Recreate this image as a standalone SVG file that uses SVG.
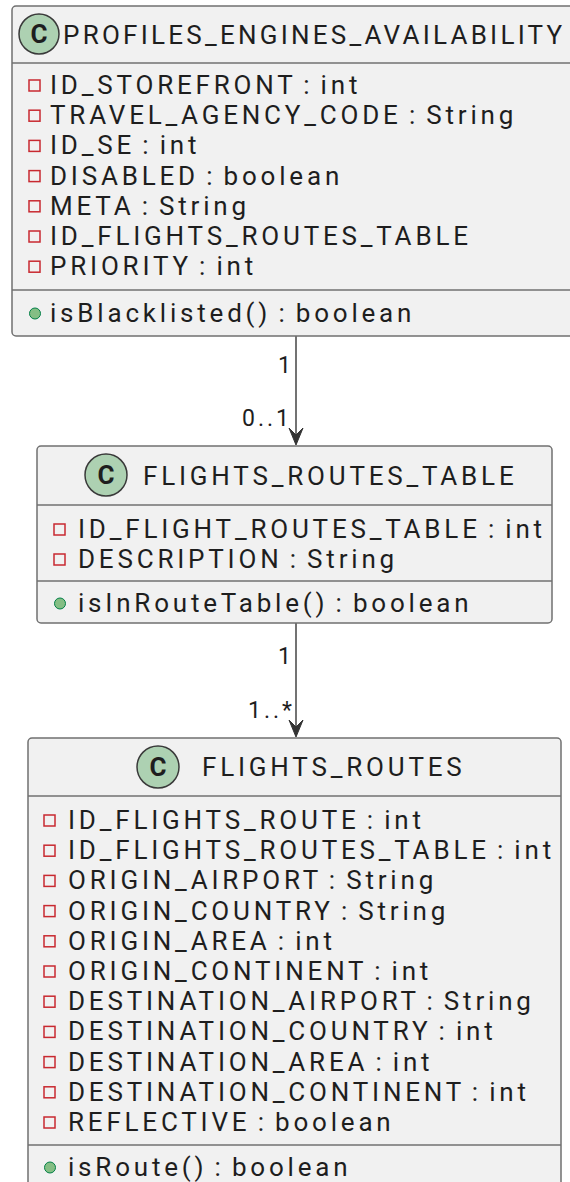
<svg xmlns="http://www.w3.org/2000/svg" width="570" height="1182" viewBox="0 0 570 1182">
<style>
.bg{fill:#ffffff}
.box{fill:#F1F1F1;stroke:#707070;stroke-width:1.5}
.dv{stroke:#707070;stroke-width:1.5}
.t{font-family:Roboto,"Liberation Sans",sans-serif;font-size:26px;letter-spacing:3.8px;word-spacing:-3px;fill:#1e1e1e}
.ci{fill:#ADD1B2;stroke:#3a3a3a;stroke-width:1.5}
.cl{font-family:Roboto,"Liberation Sans",sans-serif;font-weight:bold;font-size:26px;fill:#1e1e1e;text-anchor:middle}
.at{fill:none;stroke:#C82930;stroke-width:1.5}
.me{fill:#84BE84;stroke:#038048;stroke-width:1}
.edge{stroke:#444444;stroke-width:1.5;fill:none}
.ah{fill:#333333;stroke:#333333;stroke-width:1}
.lb{font-family:Roboto,"Liberation Sans",sans-serif;font-size:23px;letter-spacing:3px;fill:#1e1e1e}
</style>
<defs>
<rect id="sq" class="at" width="11" height="11"/>
<circle id="dot" class="me" r="5.5"/>
</defs>
<rect class="bg" x="0" y="0" width="570" height="1182"/>

<g id="connectors">
<line class="edge" x1="296" y1="336" x2="296" y2="440"/>
<path class="ah" d="M296,445 L289,428 L296,435 L303,428 Z"/>
<text class="lb" x="278" y="373">1</text>
<text class="lb" x="242" y="426">0..1</text>
<line class="edge" x1="296" y1="623" x2="296" y2="732"/>
<path class="ah" d="M296,737 L289,720 L296,727 L303,720 Z"/>
<text class="lb" x="278" y="664">1</text>
<text class="lb" x="248" y="718">1..*</text>
</g>

<g id="PROFILES_ENGINES_AVAILABILITY">
<rect class="box" x="12" y="6" width="600" height="330" rx="4"/>
<circle class="ci" cx="39" cy="34" r="20"/>
<text class="cl" x="39" y="43">C</text>
<text class="t" x="63" y="43.5" textLength="503">PROFILES_ENGINES_AVAILABILITY</text>
<line class="dv" x1="12" y1="63" x2="570" y2="63"/>
<use href="#sq" x="29" y="80"/><text class="t" x="50" y="94">ID_STOREFRONT : int</text>
<use href="#sq" x="29" y="110.2"/><text class="t" x="50" y="124.2">TRAVEL_AGENCY_CODE : String</text>
<use href="#sq" x="29" y="140.4"/><text class="t" x="50" y="154.4">ID_SE : int</text>
<use href="#sq" x="29" y="170.6"/><text class="t" x="50" y="184.6">DISABLED : boolean</text>
<use href="#sq" x="29" y="200.8"/><text class="t" x="50" y="214.8">META : String</text>
<use href="#sq" x="29" y="231"/><text class="t" x="50" y="245">ID_FLIGHTS_ROUTES_TABLE</text>
<use href="#sq" x="29" y="261.2"/><text class="t" x="50" y="275.2">PRIORITY : int</text>
<line class="dv" x1="12" y1="290" x2="570" y2="290"/>
<use href="#dot" x="35" y="313.5"/><text class="t" x="50" y="322">isBlacklisted() : boolean</text>
</g>

<g id="FLIGHTS_ROUTES_TABLE">
<rect class="box" x="37" y="446" width="515" height="177" rx="4"/>
<circle class="ci" cx="106" cy="475" r="21"/>
<text class="cl" x="106" y="484">C</text>
<text class="t" x="143" y="485">FLIGHTS_ROUTES_TABLE</text>
<line class="dv" x1="37" y1="505" x2="552" y2="505"/>
<use href="#sq" x="54" y="524"/><text class="t" x="78" y="538">ID_FLIGHT_ROUTES_TABLE : int</text>
<use href="#sq" x="54" y="554"/><text class="t" x="78" y="568">DESCRIPTION : String</text>
<line class="dv" x1="37" y1="581" x2="552" y2="581"/>
<use href="#dot" x="60" y="603.5"/><text class="t" x="78" y="612">isInRouteTable() : boolean</text>
</g>

<g id="FLIGHTS_ROUTES">
<rect class="box" x="28" y="738" width="533" height="470" rx="4"/>
<circle class="ci" cx="158" cy="767" r="21"/>
<text class="cl" x="158" y="776">C</text>
<text class="t" x="202" y="776">FLIGHTS_ROUTES</text>
<line class="dv" x1="28" y1="796" x2="561" y2="796"/>
<use href="#sq" x="44" y="815"/><text class="t" x="68" y="829">ID_FLIGHTS_ROUTE : int</text>
<use href="#sq" x="44" y="845.2"/><text class="t" x="68" y="859.2">ID_FLIGHTS_ROUTES_TABLE : int</text>
<use href="#sq" x="44" y="875.4"/><text class="t" x="68" y="889.4">ORIGIN_AIRPORT : String</text>
<use href="#sq" x="44" y="905.6"/><text class="t" x="68" y="919.6">ORIGIN_COUNTRY : String</text>
<use href="#sq" x="44" y="935.8"/><text class="t" x="68" y="949.8">ORIGIN_AREA : int</text>
<use href="#sq" x="44" y="966"/><text class="t" x="68" y="980">ORIGIN_CONTINENT : int</text>
<use href="#sq" x="44" y="996.2"/><text class="t" x="68" y="1010.2">DESTINATION_AIRPORT : String</text>
<use href="#sq" x="44" y="1026.4"/><text class="t" x="68" y="1040.4">DESTINATION_COUNTRY : int</text>
<use href="#sq" x="44" y="1056.6"/><text class="t" x="68" y="1070.6">DESTINATION_AREA : int</text>
<use href="#sq" x="44" y="1086.8"/><text class="t" x="68" y="1100.8">DESTINATION_CONTINENT : int</text>
<use href="#sq" x="44" y="1117"/><text class="t" x="68" y="1131">REFLECTIVE : boolean</text>
<line class="dv" x1="28" y1="1145" x2="561" y2="1145"/>
<use href="#dot" x="50" y="1167.5"/><text class="t" x="68" y="1176">isRoute() : boolean</text>
</g>
</svg>
